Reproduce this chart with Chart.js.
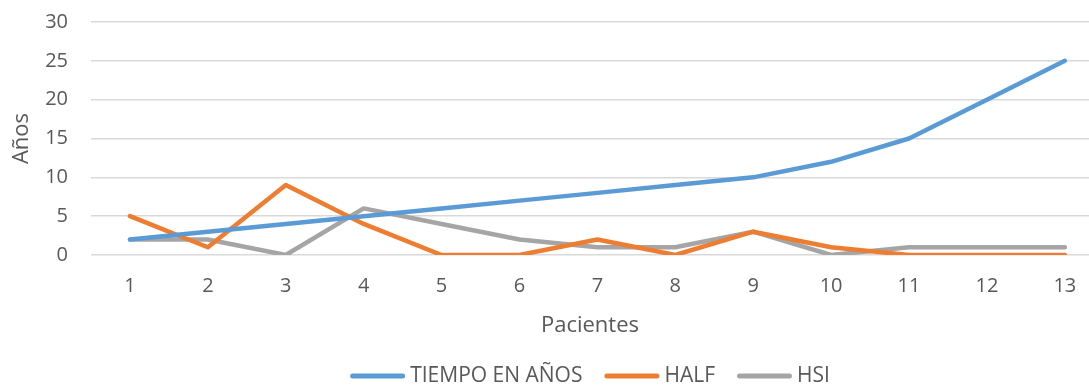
<!DOCTYPE html>
<html>
<head>
<meta charset="utf-8">
<script src="https://cdn.jsdelivr.net/npm/chart.js@4/dist/chart.umd.min.js"></script>
<style>
  html, body { margin: 0; padding: 0; background: #fff; overflow: hidden; }
  #wrap { width: 1089px; height: 387px; position: relative; }
</style>
</head>
<body>
<div id="wrap"><canvas id="c"></canvas></div>
<script>
// Patients (x categories) and years per measure
const categories = ['1', '2', '3', '4', '5', '6', '7', '8', '9', '10', '11', '12', '13'];
const tiempoEnAnos = [2, 3, 4, 5, 6, 7, 8, 9, 10, 12, 15, 20, 25];
const half = [5, 1, 9, 4, 0, 0, 2, 0, 3, 1, 0, 0, 0];
const hsi = [2, 2, 0, 6, 4, 2, 1, 1, 3, 0, 1, 1, 1];
const yTicks = [0, 5, 10, 15, 20, 25, 30];

const seriesNames = ['TIEMPO EN AÑOS', 'HALF', 'HSI'];
const seriesColors = ['#5B9BD5', '#ED7D31', '#A5A5A5'];
const seriesValues = [tiempoEnAnos, half, hsi];

const FONT = '"Open Sans", "Liberation Sans", sans-serif';
const TEXT = '#595959';

// Plot box inside the canvas
const PLOT_TOP = 22, PLOT_BOTTOM = 255;

const toPoints = vals => vals.map((v, i) => ({ x: i + 1, y: v }));

const datasets = seriesValues.map((vals, k) => ({
  label: seriesNames[k],
  data: toPoints(vals),
  borderColor: seriesColors[k],
  backgroundColor: seriesColors[k],
  borderWidth: 4.5,
  borderCapStyle: 'round',
  borderJoinStyle: 'round',
  pointRadius: 0,
  pointHoverRadius: 0,
  tension: 0,
  fill: false
}));

// Bottom legend: short rounded line swatch followed closely by its label
const lineLegend = {
  id: 'lineLegend',
  afterDraw(chart) {
    const ctx = chart.ctx;
    const swatch = 55, gapText = 5, gapItem = 22, cy = 376;
    ctx.save();
    ctx.font = '21px ' + FONT;
    const items = chart.data.datasets.map(ds => ({
      text: ds.label, color: ds.borderColor, w: ctx.measureText(ds.label).width
    }));
    const total = items.reduce((s, it) => s + swatch + gapText + it.w, 0) + gapItem * (items.length - 1);
    const area = chart.chartArea;
    let x = (area.left + area.right) / 2 - total / 2;
    ctx.textBaseline = 'middle';
    ctx.textAlign = 'left';
    items.forEach(it => {
      ctx.strokeStyle = it.color;
      ctx.lineWidth = 5;
      ctx.lineCap = 'round';
      ctx.beginPath();
      ctx.moveTo(x + 2.5, cy);
      ctx.lineTo(x + swatch - 2.5, cy);
      ctx.stroke();
      ctx.fillStyle = TEXT;
      ctx.fillText(it.text, x + swatch + gapText, cy);
      x += swatch + gapText + it.w + gapItem;
    });
    ctx.restore();
  }
};

const chart = new Chart(document.getElementById('c'), {
  type: 'line',
  data: { datasets },
  plugins: [lineLegend],
  options: {
    responsive: true,
    maintainAspectRatio: false,
    animation: false,
    layout: { padding: { top: PLOT_TOP, right: 0, bottom: 32, left: 0 } },
    plugins: {
      tooltip: { enabled: false },
      legend: { display: false }
    },
    scales: {
      x: {
        type: 'linear',
        min: 0.5,
        max: 13.31,
        afterBuildTicks: scale => {
          scale.ticks = categories.map((c, i) => ({ value: i + 1 }));
        },
        afterFit: scale => {
          scale.height = 100;
          scale.paddingLeft = 0;
          scale.paddingRight = 0;
        },
        grid: { display: false, drawTicks: false },
        border: { display: false },
        ticks: {
          color: TEXT,
          font: { family: FONT, size: 20 },
          padding: 19,
          autoSkip: false,
          maxRotation: 0,
          callback: (v) => categories[Math.round(v) - 1]
        },
        title: {
          display: true,
          text: 'Pacientes',
          color: TEXT,
          font: { family: FONT, size: 22 },
          padding: { top: 0, bottom: 16 }
        }
      },
      y: {
        min: 0,
        max: 30,
        afterBuildTicks: scale => {
          scale.ticks = yTicks.map(v => ({ value: v }));
        },
        afterFit: scale => {
          scale.width = 91;
          scale.paddingTop = 0;
          scale.paddingBottom = 0;
        },
        grid: { color: '#D9D9D9', lineWidth: 1.5, drawTicks: false },
        border: { display: false },
        ticks: {
          color: TEXT,
          font: { family: FONT, size: 20 },
          padding: 23
        },
        title: {
          display: true,
          text: 'Años',
          color: TEXT,
          font: { family: FONT, size: 22 },
          padding: { top: 9, bottom: 0 }
        }
      }
    }
  }
});

// Settle the plot box at its intended top and bottom
for (let i = 0; i < 3; i++) {
  const a = chart.chartArea;
  const p = chart.options.layout.padding;
  const dTop = PLOT_TOP - a.top, dBottom = a.bottom - PLOT_BOTTOM;
  if (Math.abs(dTop) < 0.5 && Math.abs(dBottom) < 0.5) break;
  p.top += dTop;
  p.bottom += dBottom;
  chart.update();
}
</script>
</body>
</html>
